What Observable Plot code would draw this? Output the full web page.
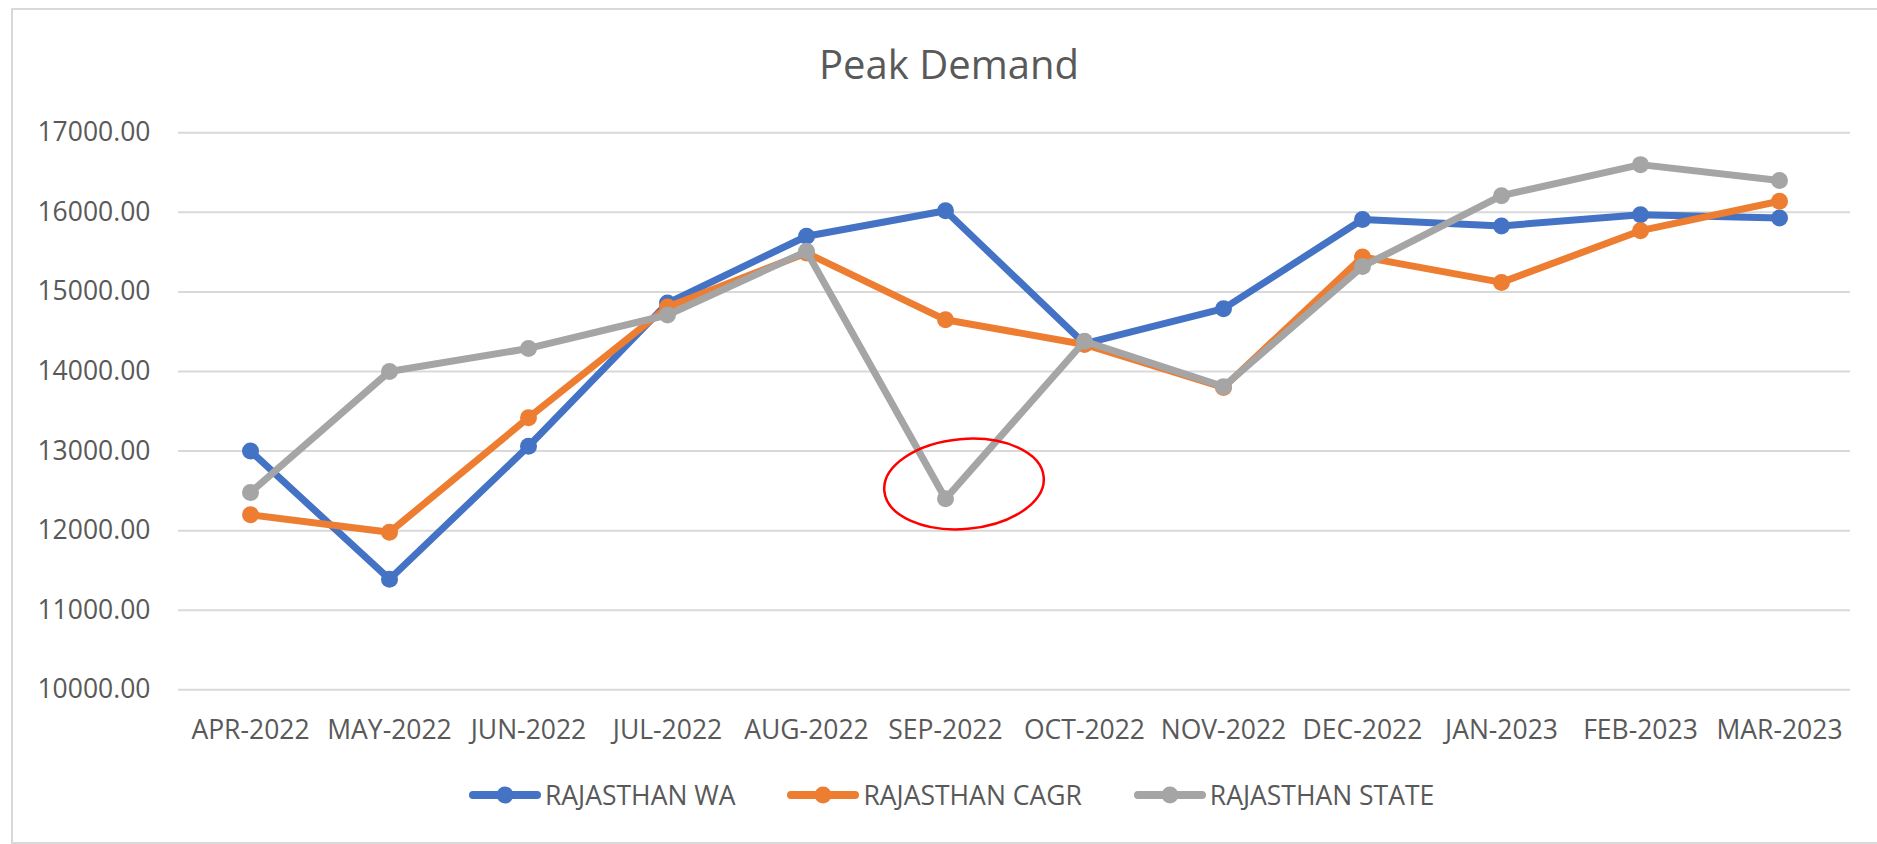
<!DOCTYPE html>
<html>
<head>
<meta charset="utf-8">
<script src="https://cdn.jsdelivr.net/npm/d3@7"></script>
<script src="https://cdn.jsdelivr.net/npm/@observablehq/plot@0.6"></script>
<style>
  html, body { margin: 0; padding: 0; background: #fff; }
  body { width: 1877px; height: 844px; position: relative; overflow: hidden; font-family: "Open Sans", sans-serif; color: #595959; }
  #frame { position: absolute; left: 11px; top: 8px; width: 1880px; height: 832px; border: 2px solid #d9d9d9; box-sizing: content-box; }
  #title { position: absolute; left: 0; width: 1898px; top: 44px; text-align: center; font-size: 40px; line-height: 40px; color: #595959; }
  #chart { position: absolute; left: 0; top: 100px; }
  #legend { position: absolute; left: 469px; top: 785px; height: 20px; display: flex; align-items: center; gap: 52px; font-size: 26.5px; line-height: 26.5px; color: #595959; }
  .item { display: flex; align-items: center; gap: 4px; }
  .item svg { display: block; }
</style>
</head>
<body>
<div id="frame"></div>
<div id="title">Peak Demand</div>
<div id="chart"></div>
<div id="legend"></div>
<script>
// ---- data ----
const months = ["APR-2022","MAY-2022","JUN-2022","JUL-2022","AUG-2022","SEP-2022","OCT-2022","NOV-2022","DEC-2022","JAN-2023","FEB-2023","MAR-2023"];
const seriesNames = ["RAJASTHAN WA", "RAJASTHAN CAGR", "RAJASTHAN STATE"];
const rajasthanWA    = [13000, 11390, 13060, 14860, 15700, 16020, 14350, 14790, 15910, 15830, 15970, 15930];
const rajasthanCAGR  = [12200, 11980, 13420, 14810, 15490, 14650, 14340, 13800, 15440, 15120, 15770, 16140];
const rajasthanSTATE = [12480, 14000, 14290, 14710, 15510, 12400, 14380, 13810, 15320, 16210, 16600, 16400];
const yTicks = [10000, 11000, 12000, 13000, 14000, 15000, 16000, 17000];
const annotationMonth = "SEP-2022";
const annotationValue = 12580;

// ---- styles ----
const seriesColors = ["#4472C4", "#ED7D31", "#A5A5A5"];
const seriesValues = [rajasthanWA, rajasthanCAGR, rajasthanSTATE];

const rows = seriesNames.flatMap((s, j) => months.map((m, i) => ({series: s, month: m, value: seriesValues[j][i]})));

const seriesMarks = seriesNames.flatMap((s, j) => {
  const d = rows.filter(r => r.series === s);
  return [
    Plot.line(d, {x: "month", y: "value", stroke: seriesColors[j], strokeWidth: 7, strokeLinejoin: "round", strokeLinecap: "round"}),
    Plot.dot(d, {x: "month", y: "value", fill: seriesColors[j], r: 8.5, stroke: "none"})
  ];
});

function ellipseMark(index, scales) {
  const cx = scales.x(annotationMonth) + 19;
  const cy = scales.y(annotationValue);
  const e = document.createElementNS("http://www.w3.org/2000/svg", "ellipse");
  e.setAttribute("cx", cx);
  e.setAttribute("cy", cy);
  e.setAttribute("rx", 80);
  e.setAttribute("ry", 45);
  e.setAttribute("fill", "none");
  e.setAttribute("stroke", "#FF0000");
  e.setAttribute("stroke-width", 2.5);
  e.setAttribute("transform", `rotate(-5 ${cx} ${cy})`);
  return e;
}

const chart = Plot.plot({
  width: 1877,
  height: 660,
  marginLeft: 178,
  marginRight: 27,
  marginTop: 32.3,
  marginBottom: 70.7,
  style: {fontFamily: "Open Sans", fontSize: "26.5px", color: "#595959", background: "transparent", overflow: "visible"},
  x: {type: "point", domain: months, padding: 0.5},
  y: {domain: [10000, 17000]},
  marks: [
    Plot.gridY(yTicks, {stroke: "#d9d9d9", strokeWidth: 2, strokeOpacity: 1}),
    Plot.axisY(yTicks, {tickSize: 0, tickPadding: 28, tickFormat: d => d.toFixed(2), fontSize: 26.5, label: null}),
    Plot.axisX({tickSize: 0, tickPadding: 30, fontSize: 26.5, label: null}),
    ...seriesMarks,
    ellipseMark
  ]
});
document.getElementById("chart").appendChild(chart);

// legend
const legend = document.getElementById("legend");
seriesNames.forEach((s, j) => {
  const item = document.createElement("div");
  item.className = "item";
  item.innerHTML = `<svg width="72" height="20"><line x1="4" y1="10" x2="68" y2="10" stroke="${seriesColors[j]}" stroke-width="8" stroke-linecap="round"/><circle cx="36" cy="10" r="8.5" fill="${seriesColors[j]}"/></svg><span>${s}</span>`;
  legend.appendChild(item);
});
</script>
</body>
</html>
